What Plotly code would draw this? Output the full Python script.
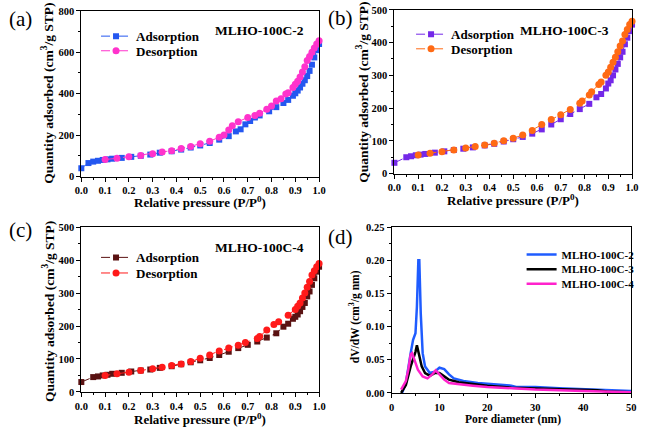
import plotly.graph_objects as go

# (a) MLHO-100C-2
a_ads_p = [0.0, 0.03, 0.05, 0.07, 0.09, 0.11, 0.13, 0.17, 0.21, 0.25, 0.29, 0.33, 0.38, 0.42, 0.46, 0.50,
           0.54, 0.58, 0.62, 0.65, 0.67, 0.69, 0.71, 0.73, 0.75, 0.79, 0.82, 0.85, 0.87, 0.89, 0.90, 0.91,
           0.92, 0.93, 0.94, 0.95, 0.96, 0.97, 0.98, 0.99, 1.0]
a_ads_q = [40, 65, 72, 76, 80, 83, 86, 90, 95, 100, 106, 115, 122, 130, 140, 150,
           162, 178, 195, 218, 228, 252, 268, 285, 295, 315, 335, 355, 370, 390, 402, 415,
           430, 448, 465, 485, 510, 540, 575, 610, 640]
a_des_p = [1.0, 0.99, 0.98, 0.97, 0.96, 0.95, 0.94, 0.93, 0.92, 0.91, 0.90, 0.89, 0.87, 0.86, 0.84, 0.82,
           0.80, 0.78, 0.75, 0.73, 0.70, 0.66, 0.635, 0.62, 0.60, 0.58, 0.54, 0.50, 0.46, 0.42, 0.38, 0.34,
           0.30, 0.25, 0.20, 0.15, 0.10]
a_des_q = [655, 640, 620, 600, 580, 560, 530, 505, 480, 460, 445, 430, 405, 398, 375, 365,
           340, 325, 305, 295, 285, 265, 245, 225, 200, 190, 170, 158, 145, 135, 125, 118,
           110, 102, 96, 88, 82]

# (b) MLHO-100C-3
b_ads_p = [0.0, 0.05, 0.07, 0.09, 0.11, 0.13, 0.17, 0.21, 0.25, 0.29, 0.33, 0.38, 0.42, 0.46, 0.50, 0.54,
           0.58, 0.62, 0.66, 0.70, 0.74, 0.78, 0.82, 0.85, 0.87, 0.89, 0.90, 0.91, 0.92, 0.93, 0.94, 0.95,
           0.96, 0.97, 0.98, 0.99, 1.0]
b_ads_q = [33, 50, 53, 56, 58, 60, 64, 68, 72, 76, 80, 86, 91, 98, 105, 112,
           122, 135, 150, 166, 182, 197, 213, 233, 243, 260, 275, 285, 300, 318, 335, 355,
           372, 395, 415, 435, 455]
b_des_p = [1.0, 0.99, 0.98, 0.97, 0.96, 0.95, 0.94, 0.93, 0.92, 0.91, 0.90, 0.89, 0.87, 0.86, 0.83, 0.82,
           0.79, 0.78, 0.74, 0.70, 0.66, 0.62, 0.58, 0.54, 0.50, 0.46, 0.42, 0.38, 0.34, 0.30, 0.25, 0.20,
           0.15, 0.10]
b_des_q = [465, 455, 440, 425, 405, 390, 372, 355, 340, 325, 310, 300, 280, 272, 250, 240,
           222, 215, 196, 180, 165, 150, 132, 118, 108, 100, 93, 87, 83, 78, 72, 67,
           62, 57]

# (c) MLHO-100C-4
c_ads_p = [0.0, 0.05, 0.07, 0.09, 0.11, 0.13, 0.17, 0.21, 0.25, 0.29, 0.33, 0.38, 0.42, 0.46, 0.50, 0.54,
           0.58, 0.62, 0.66, 0.70, 0.74, 0.78, 0.82, 0.85, 0.87, 0.89, 0.90, 0.91, 0.92, 0.93, 0.94, 0.95,
           0.96, 0.97, 0.98, 0.99, 1.0]
c_ads_q = [30, 45, 47, 50, 52, 55, 58, 62, 65, 68, 73, 78, 84, 90, 96, 103,
           112, 122, 133, 143, 153, 165, 178, 198, 207, 222, 228, 235, 245, 258, 270, 290,
           305, 325, 345, 365, 380]
c_des_p = [1.0, 0.99, 0.98, 0.97, 0.96, 0.95, 0.94, 0.93, 0.92, 0.91, 0.90, 0.87, 0.83, 0.81, 0.78, 0.75,
           0.74, 0.69, 0.66, 0.62, 0.58, 0.54, 0.50, 0.46, 0.42, 0.38, 0.34, 0.30, 0.25, 0.20, 0.15, 0.10]
c_des_q = [390, 380, 368, 355, 335, 318, 300, 285, 270, 260, 250, 233, 213, 205, 188, 168,
           162, 150, 142, 133, 124, 112, 102, 92, 85, 80, 75, 70, 65, 60, 55, 50]

# (d) pore size distribution
d2_w = [2.2, 3, 4, 4.5, 5, 5.3, 5.6, 5.8, 6.1, 6.5, 7, 8, 9, 10, 11, 12, 13, 15, 18, 22, 25, 26, 30, 35, 40, 45, 50]
d2_v = [0.0, 0.015, 0.06, 0.08, 0.09, 0.13, 0.2, 0.2, 0.12, 0.06, 0.04, 0.03, 0.032, 0.038, 0.036, 0.028,
        0.022, 0.018, 0.015, 0.013, 0.011, 0.009, 0.009, 0.007, 0.006, 0.004, 0.003]
d3_w = [2, 3, 4, 4.5, 5, 5.3, 5.7, 6.3, 7, 8, 9, 10, 11, 12, 14, 17, 20, 25, 30, 35, 40, 43, 45, 50]
d3_v = [0.0, 0.012, 0.04, 0.05, 0.062, 0.072, 0.06, 0.04, 0.03, 0.026, 0.03, 0.03, 0.025, 0.02, 0.016,
        0.013, 0.011, 0.008, 0.007, 0.006, 0.005, 0.004, 0.002, 0.001]
d4_w = [2, 3, 3.5, 4, 4.3, 4.8, 5.5, 6.5, 7.5, 8.5, 9.2, 10, 11, 12, 14, 17, 20, 25, 30, 40, 50]
d4_v = [0.005, 0.018, 0.035, 0.058, 0.06, 0.05, 0.035, 0.025, 0.022, 0.028, 0.034, 0.028, 0.02, 0.015,
        0.013, 0.011, 0.009, 0.007, 0.005, 0.003, 0.001]

FONT = "Liberation Serif"
fig = go.Figure()

# one legend per entry so the rows can sit as tight as in the original
iso = [
    ("", a_ads_p, a_ads_q, a_des_p, a_des_q, "#2457f0", "#ff33cc", "legend", "legend5"),
    ("2", b_ads_p, b_ads_q, b_des_p, b_des_q, "#7428e8", "#ff6a14", "legend2", "legend6"),
    ("3", c_ads_p, c_ads_q, c_des_p, c_des_q, "#5a1212", "#ff1a1a", "legend3", "legend7"),
]
for ax, xp, yq, xd, yd, c1, c2, lg1, lg2 in iso:
    fig.add_trace(go.Scatter(x=xp, y=yq, name="Adsorption", mode="lines+markers",
                             xaxis="x" + ax, yaxis="y" + ax, legend=lg1, cliponaxis=False,
                             line=dict(color=c1, width=1, dash="dash"),
                             marker=dict(symbol="square", size=6, color=c1)))
    fig.add_trace(go.Scatter(x=xd, y=yd, name="Desorption", mode="lines+markers",
                             xaxis="x" + ax, yaxis="y" + ax, legend=lg2, cliponaxis=False,
                             line=dict(color=c2, width=1, dash="dash"),
                             marker=dict(symbol="circle", size=7, color=c2)))

for w, v, nm, col, lg in [(d2_w, d2_v, "MLHO-100C-2", "#1f5cff", "legend4"),
                          (d3_w, d3_v, "MLHO-100C-3", "#000000", "legend8"),
                          (d4_w, d4_v, "MLHO-100C-4", "#ff22cc", "legend9")]:
    fig.add_trace(go.Scatter(x=w, y=v, name=nm, mode="lines", xaxis="x4", yaxis="y4",
                             legend=lg, line=dict(color=col, width=2.5)))

tickfont = dict(family=FONT, size=10.5, color="black", weight="bold")


def axis(domain, anchor, dtick, minor, rng, fmt):
    return dict(domain=domain, anchor=anchor, range=rng, dtick=dtick, tick0=0, tickformat=fmt,
                showline=True, mirror=True, linecolor="black", linewidth=1,
                ticks="outside", ticklen=4, tickcolor="black", showgrid=False, zeroline=False,
                minor=dict(dtick=minor, ticks="outside", ticklen=2, tickcolor="black"),
                tickfont=tickfont)


fig.update_layout(
    width=646, height=434, margin=dict(l=0, r=0, t=0, b=0),
    paper_bgcolor="white", plot_bgcolor="white", showlegend=True,
    xaxis=axis([0.1176, 0.4938], "y", 0.1, 0.05, [0, 1], ".1f"),
    yaxis=axis([0.5945, 0.9862], "x", 200, 100, [0, 800], "d"),
    xaxis2=axis([0.613, 0.989], "y2", 0.1, 0.05, [0, 1], ".1f"),
    yaxis2=axis([0.6014, 0.9885], "x2", 100, 50, [0, 500], "d"),
    xaxis3=axis([0.1176, 0.4938], "y3", 0.1, 0.05, [0, 1], ".1f"),
    yaxis3=axis([0.0853, 0.4747], "x3", 100, 50, [0, 500], "d"),
    xaxis4=axis([0.6084, 0.9876], "y4", 10, 5, [0, 50], "d"),
    yaxis4=axis([0.0829, 0.4747], "x4", 0.05, 0.025, [0, 0.25], ".2f"),
)

legfont = dict(family=FONT, size=13, color="black", weight="bold")
for name, x, y in [("legend", 91, 32), ("legend5", 91, 47),
                   ("legend2", 413, 30), ("legend6", 413, 45),
                   ("legend3", 91, 259), ("legend7", 91, 275)]:
    fig.update_layout({name: dict(x=x / 646, y=1 - y / 434, xanchor="left", yanchor="middle",
                                  bgcolor="rgba(0,0,0,0)", font=legfont, itemwidth=30)})
for name, y in [("legend4", 256), ("legend8", 271), ("legend9", 286)]:
    fig.update_layout({name: dict(x=526 / 646, y=1 - y / 434, xanchor="left", yanchor="middle",
                                  bgcolor="rgba(0,0,0,0)", itemwidth=30,
                                  font=dict(family=FONT, size=11, color="black", weight="bold"))})

ann = []


def note(txt, x, y, size, bold=True, angle=0):
    f = dict(family=FONT, size=size, color="black")
    if bold:
        f["weight"] = "bold"
    ann.append(dict(text=txt, x=x / 646, y=1 - y / 434, xref="paper", yref="paper", showarrow=False,
                    xanchor="center", yanchor="middle", textangle=angle, font=f))


for txt, x, y in [("(a)", 14, 14), ("(b)", 341, 13), ("(c)", 14, 231), ("(d)", 341, 238)]:
    note(txt, x, y, 21, bold=False)
for txt, x, y in [("MLHO-100C-2", 258, 26), ("MLHO-100C-3", 570, 26), ("MLHO-100C-4", 258, 249)]:
    note(txt, x, y, 13.5)
for x, y in [(197, 202), (517, 200), (197, 425)]:
    note("Relative pressure (P/P<sup>0</sup>)", x, y, 13)
note("Pore diameter (nm)", 517, 425, 11.5)
for x, y in [(42, 91), (364, 90), (42, 315)]:
    note("Quantity adsorbed (cm<sup>3</sup>/g STP)", x, y, 13.5, angle=-90)
note("dV/dW (cm<sup>3</sup>/g nm)", 356, 320, 11.5, angle=-90)
fig.update_layout(annotations=ann)

fig.write_html("out.html", config={"displayModeBar": False},
               post_script="document.body.style.margin='0';")
